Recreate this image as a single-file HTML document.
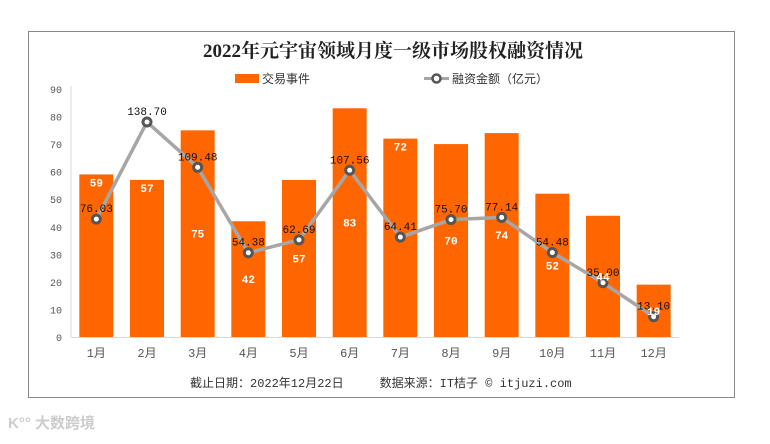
<!DOCTYPE html>
<html><head><meta charset="utf-8"><style>
body{margin:0;background:#fff;width:770px;height:439px;overflow:hidden;font-family:"Liberation Sans","Noto Sans CJK SC",sans-serif}
svg text{font-family:"Liberation Mono","Noto Sans CJK SC",monospace}
</style></head><body>
<svg id="c" width="770" height="439">
<rect x="28.5" y="31.5" width="706" height="366" fill="#fff" stroke="#888" stroke-width="1"/>
<text x="393" y="57" text-anchor="middle" style="font-family:'Liberation Serif','Noto Serif CJK SC',serif;font-size:19px;font-weight:bold" fill="#222">2022年元宇宙领域月度一级市场股权融资情况</text>
<g><rect x="235" y="74" width="24" height="9" fill="#ff6600"/><text x="262" y="83" font-size="12" fill="#333" style="font-family:'Liberation Sans','Noto Sans CJK SC',sans-serif">交易事件</text></g>
<g><line x1="424" y1="78.5" x2="449" y2="78.5" stroke="#a6a6a6" stroke-width="3"/><circle cx="436.5" cy="78.5" r="4" fill="#fff" stroke="#555" stroke-width="2.5"/><text x="452" y="83" font-size="12" fill="#333" style="font-family:'Liberation Sans','Noto Sans CJK SC',sans-serif">融资金额（亿元）</text></g>
<g id="plot"></g>
<text x="190" y="387" font-size="12" fill="#333" style="font-family:'Liberation Mono','Noto Sans CJK SC',monospace">截止日期：2022年12月22日&#160;&#160;&#160;&#160;&#160;数据来源：IT桔子 © itjuzi.com</text>
<text x="8" y="428" font-size="15" fill="#ccc" font-weight="bold" style="font-family:'Liberation Sans','Noto Sans CJK SC',sans-serif">K°° 大数跨境</text>
</svg>
<script>
const categories=["1月","2月","3月","4月","5月","6月","7月","8月","9月","10月","11月","12月"];
const deals=[59,57,75,42,57,83,72,70,74,52,44,19];
const funding=[76.03,138.70,109.48,54.38,62.69,107.56,64.41,75.70,77.14,54.48,35.00,13.10];
const fundingLabels=["76.03","138.70","109.48","54.38","62.69","107.56","64.41","75.70","77.14","54.48","35.00","13.10"];
const barLabelMode=["top","top","mid","mid","mid","mid","top","mid","mid","mid","mid","mid"];
const yTicks=[0,10,20,30,40,50,60,70,80,90];
const NS="http://www.w3.org/2000/svg";
const g=document.getElementById('plot');
const L=71,R=679,B=337,T=89,band=(R-L)/12;
const y1=v=>B-(v/90)*(B-T);
const y2=v=>B-(v/160)*(B-T);
const xc=i=>L+band*(i+0.5);
function mk(t,a){const e=document.createElementNS(NS,t);for(const k in a)e.setAttribute(k,a[k]);g.appendChild(e);return e;}
let ax=mk('line',{x1:L,y1:T-3,x2:L,y2:B,stroke:'#d9d9d9'});


yTicks.forEach(v=>{const t=mk('text',{x:62,y:y1(v)+4,'text-anchor':'end','font-size':10,fill:'#555'});t.textContent=v;

});
deals.forEach((v,i)=>{const w=34;const r=mk('rect',{x:xc(i)-w/2,y:y1(v),width:w,height:B-y1(v),fill:'#ff6600'});

});
let bx=mk('line',{x1:L,y1:B+0.5,x2:R,y2:B+0.5,stroke:'#d9d9d9'});


categories.forEach((c,i)=>{const t=mk('text',{x:xc(i),y:357,'text-anchor':'middle','font-size':12,fill:'#555'});t.textContent=c;

});
const pts=funding.map((v,i)=>xc(i)+','+y2(v)).join(' ');
const pl=mk('polyline',{points:pts,fill:'none',stroke:'#a6a6a6','stroke-width':3.5,'stroke-linejoin':'round'});


funding.forEach((v,i)=>{const c=mk('circle',{cx:xc(i),cy:y2(v),r:4,fill:'#fff',stroke:'#555','stroke-width':3});


const t=mk('text',{x:xc(i),y:y2(v)-7,'text-anchor':'middle','font-size':11,fill:'#111'});t.textContent=fundingLabels[i];

});
deals.forEach((v,i)=>{const ly=barLabelMode[i]==='top'?y1(v)+12:(y1(v)+B)/2+4;const t=mk('text',{x:xc(i),y:ly,'text-anchor':'middle','font-size':11,fill:'#fff','font-weight':'bold'});t.textContent=v;

});
</script>
</body></html>
